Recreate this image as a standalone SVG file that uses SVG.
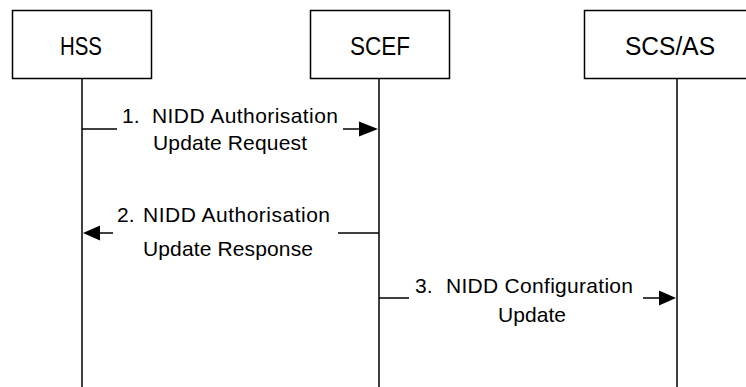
<svg xmlns="http://www.w3.org/2000/svg" width="746" height="387" viewBox="0 0 746 387">
<style>
.box{fill:#fff;stroke:#000;stroke-width:1.5}
.life{stroke:#000;stroke-width:1.5;fill:none}
.msg{stroke:#000;stroke-width:1.5;fill:none}
.head{fill:#000;stroke:none}
.name{font-family:"Liberation Sans",Arial,sans-serif;font-size:26px;fill:#000}
.lbl{font-family:"Liberation Sans",Arial,sans-serif;font-size:21px;fill:#000}
</style>
<g id="HSS">
<rect class="box" x="12.5" y="10.5" width="139" height="68"/>
<text class="name" x="60" y="55" textLength="42" lengthAdjust="spacingAndGlyphs">HSS</text>
<line class="life" x1="82" y1="79" x2="82" y2="387"/>
</g>
<g id="SCEF">
<rect class="box" x="310.5" y="10.5" width="139" height="68"/>
<text class="name" x="350" y="55" textLength="60" lengthAdjust="spacingAndGlyphs">SCEF</text>
<line class="life" x1="379" y1="79" x2="379" y2="387"/>
</g>
<g id="SCS_AS">
<rect class="box" x="584.5" y="10.5" width="170" height="68"/>
<text class="name" x="625" y="55" textLength="90" lengthAdjust="spacingAndGlyphs">SCS/AS</text>
<line class="life" x1="677" y1="79" x2="677" y2="387"/>
</g>
<g id="connectors">
<g id="msg1">
<line class="msg" x1="82" y1="129" x2="117" y2="129"/>
<line class="msg" x1="343" y1="129" x2="362" y2="129"/>
<polygon class="head" points="359,121.5 378,129 359,136.5"/>
<text class="lbl" x="122" y="123">1.</text>
<text class="lbl" x="152" y="123" textLength="186" lengthAdjust="spacing">NIDD Authorisation</text>
<text class="lbl" x="153" y="150" textLength="154" lengthAdjust="spacing">Update Request</text>
</g>
<g id="msg2">
<line class="msg" x1="96" y1="233" x2="113" y2="233"/>
<polygon class="head" points="100,225.5 83,233 100,240.5"/>
<line class="msg" x1="338" y1="233" x2="379" y2="233"/>
<text class="lbl" x="117" y="222">2.</text>
<text class="lbl" x="143" y="222" textLength="187" lengthAdjust="spacing">NIDD Authorisation</text>
<text class="lbl" x="143" y="256" textLength="170" lengthAdjust="spacing">Update  Response</text>
</g>
<g id="msg3">
<line class="msg" x1="379" y1="298" x2="409" y2="298"/>
<line class="msg" x1="643" y1="298" x2="662" y2="298"/>
<polygon class="head" points="659,290.5 676,298 659,305.5"/>
<text class="lbl" x="415" y="293">3.</text>
<text class="lbl" x="446" y="293" textLength="187" lengthAdjust="spacing">NIDD Configuration</text>
<text class="lbl" x="498" y="322" textLength="68" lengthAdjust="spacing">Update</text>
</g>
</g>
</svg>
